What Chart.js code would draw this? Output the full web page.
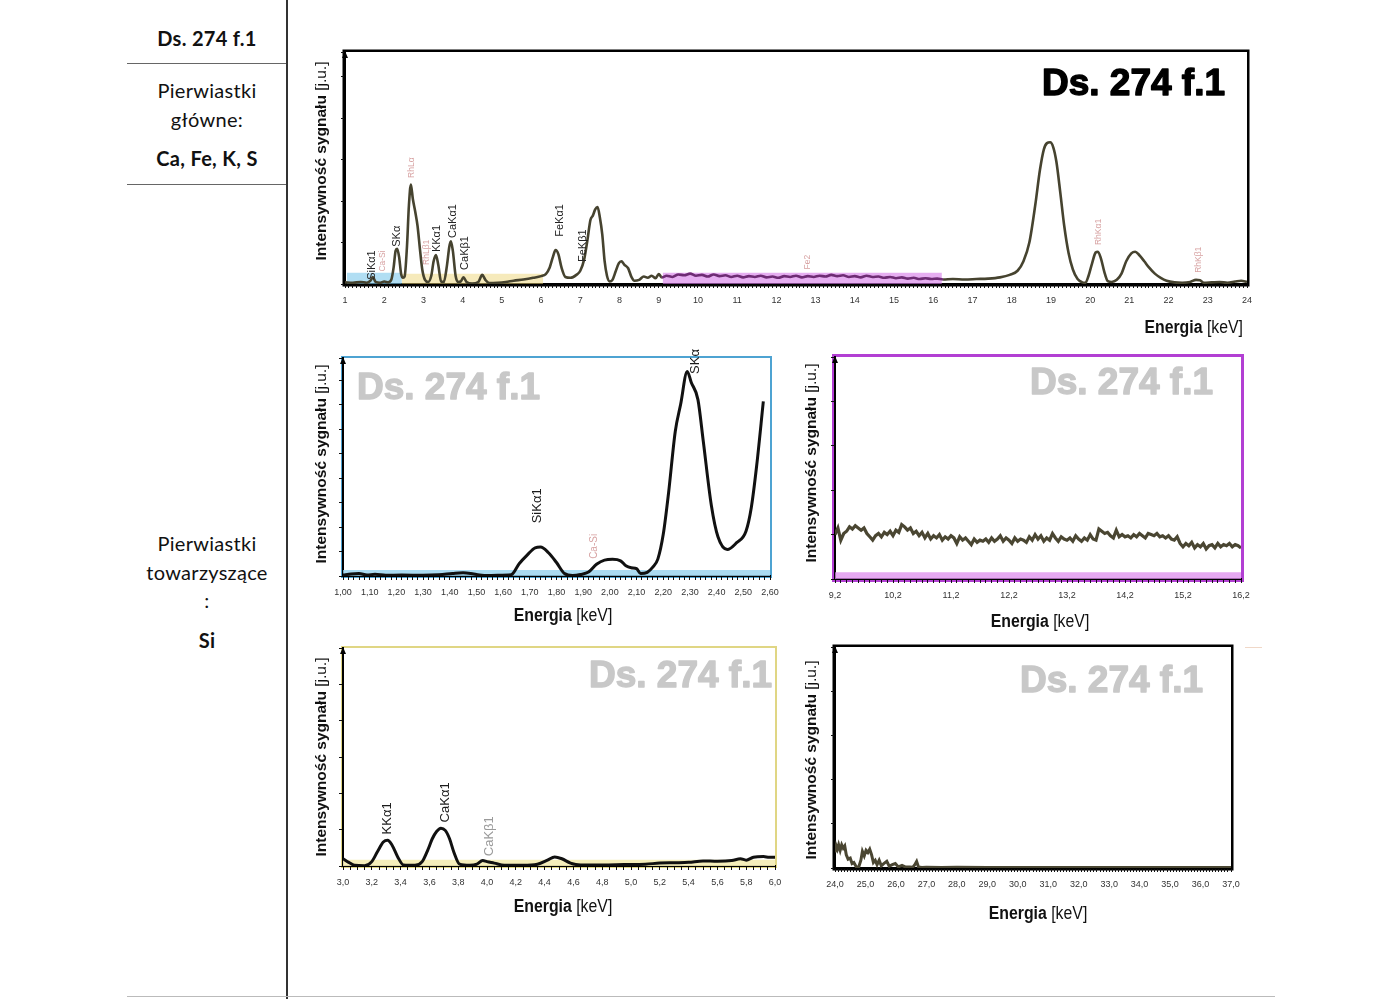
<!DOCTYPE html>
<html lang="pl">
<head>
<meta charset="utf-8">
<title>Ds. 274 f.1</title>
<script src="https://cdn.jsdelivr.net/npm/chart.js@4.4.1/dist/chart.umd.min.js"></script>
<style>
  html, body { margin: 0; padding: 0; background: #fff; }
  body { width: 1400px; height: 999px; position: relative; overflow: hidden; font-family: Lato, "Open Sans", sans-serif; }
  .cell { position: absolute; left: 127px; width: 160px; text-align: center; font-size: 20px; line-height: 24px; color: #111; letter-spacing: 0.3px; }
  .b { font-weight: bold; }
  .hl { position: absolute; height: 1px; background: #666; }
  canvas { position: absolute; }
</style>
</head>
<body>

<div class="cell b" style="top:26px">Ds. 274 f.1</div>
<div class="hl" style="left:127px; width:160px; top:63px"></div>
<div class="cell" style="top:78px">Pierwiastki</div>
<div class="cell" style="top:107px">główne:</div>
<div class="cell b" style="top:146px">Ca, Fe, K, S</div>
<div class="hl" style="left:127px; width:160px; top:184px"></div>
<div class="cell" style="top:531px">Pierwiastki</div>
<div class="cell" style="top:560px">towarzyszące</div>
<div class="cell" style="top:588px">:</div>
<div class="cell b" style="top:628px">Si</div>
<div style="position:absolute; left:286px; top:0; width:1.5px; height:999px; background:#333"></div>
<div style="position:absolute; left:127px; top:996px; width:1148px; height:1px; background:#bbb"></div>
<div style="position:absolute; left:1245px; top:647px; width:17px; height:1px; background:#f0d8c8"></div>

<canvas id="cMain"></canvas>
<canvas id="cSi"></canvas>
<canvas id="cHigh"></canvas>
<canvas id="cMid"></canvas>
<canvas id="cTail"></canvas>

<script>
// ---- widmo główne 1-24 keV ----
const mainEnergy = [
  1.00,1.20,1.40,1.55,1.65,1.71,1.78,1.90,2.00,2.10,
  2.18,2.24,2.29,2.33,2.38,2.43,2.48,2.52,2.58,2.63,
  2.68,2.73,2.79,2.85,2.91,2.97,3.04,3.12,3.20,3.26,
  3.32,3.38,3.45,3.52,3.60,3.66,3.70,3.75,3.82,3.88,
  3.95,4.02,4.10,4.24,4.40,4.50,4.58,4.68,4.90,5.10,
  5.30,5.55,5.80,6.00,6.12,6.22,6.30,6.37,6.44,6.52,
  6.62,6.75,6.90,7.00,7.10,7.18,7.26,7.32,7.38,7.44,
  7.50,7.56,7.62,7.68,7.75,7.82,7.90,7.98,8.05,8.12,
  8.22,8.30,8.38,8.50,8.62,8.72,8.82,8.92,9.00,9.08,
  9.20,9.35,9.50,9.65,9.80,9.95,10.10,10.25,10.40,10.55,
  10.70,10.85,11.00,11.15,11.30,11.45,11.60,11.75,11.90,12.05,
  12.20,12.35,12.50,12.65,12.80,12.95,13.10,13.25,13.40,13.55,
  13.70,13.85,14.00,14.15,14.30,14.45,14.60,14.75,14.90,15.05,
  15.20,15.35,15.50,15.65,15.80,15.95,16.10,16.25,16.50,16.80,
  17.10,17.40,17.70,17.95,18.15,18.30,18.45,18.60,18.72,18.82,
  18.90,18.98,19.06,19.14,19.24,19.34,19.45,19.56,19.68,19.80,
  19.88,19.96,20.05,20.14,20.20,20.28,20.36,20.45,20.55,20.68,
  20.80,20.92,21.05,21.15,21.25,21.38,21.50,21.65,21.80,21.95,
  22.15,22.35,22.55,22.70,22.80,22.90,23.10,23.30,23.50,23.70,
  23.85,24.00
];
const mainSignal = [
  0.04,0.03,0.05,0.03,0.08,0.17,0.05,0.03,0.06,0.04,
  0.10,0.40,0.80,0.85,0.65,0.25,0.15,0.18,0.90,1.90,
  2.40,2.05,1.75,1.40,0.85,0.35,0.10,0.05,0.20,0.55,
  0.70,0.45,0.06,0.05,0.45,0.90,1.03,0.80,0.20,0.05,
  0.06,0.16,0.05,0.01,0.05,0.22,0.10,0.02,0.03,0.05,
  0.08,0.11,0.15,0.19,0.24,0.40,0.65,0.82,0.72,0.40,
  0.17,0.15,0.22,0.32,0.60,1.05,1.55,1.65,1.80,1.86,
  1.60,1.20,0.55,0.20,0.06,0.10,0.30,0.50,0.55,0.47,
  0.38,0.18,0.08,0.10,0.18,0.15,0.20,0.14,0.24,0.16,
  0.20,0.17,0.23,0.21,0.25,0.20,0.22,0.18,0.23,0.19,
  0.21,0.17,0.20,0.16,0.19,0.17,0.20,0.16,0.18,0.15,
  0.19,0.17,0.20,0.16,0.19,0.17,0.20,0.18,0.22,0.19,
  0.21,0.17,0.19,0.16,0.20,0.17,0.18,0.15,0.17,0.14,
  0.16,0.13,0.15,0.12,0.14,0.12,0.13,0.11,0.12,0.11,
  0.12,0.13,0.16,0.22,0.32,0.55,1.00,1.90,2.75,3.25,
  3.40,3.42,3.30,2.95,2.20,1.40,0.75,0.35,0.12,0.04,
  0.03,0.20,0.50,0.76,0.78,0.60,0.30,0.07,0.05,0.10,
  0.25,0.55,0.74,0.78,0.70,0.55,0.40,0.25,0.15,0.08,
  0.04,0.03,0.05,0.10,0.09,0.03,0.04,0.05,0.03,0.06,
  0.08,0.05
];
// zakresy powiększeń zaznaczone na widmie głównym
const mainBandStart = [1.05, 2.45, 9.10];
const mainBandEnd   = [2.45, 6.05, 16.22];
const mainBandLevel = [0.27, 0.25, 0.27];
// opisy linii
const mainPeakNames  = ['SiKα1','Ca-Si','SKα','RhLα','RhLβ1','KKα1','CaKα1','CaKβ1','FeKα1','FeKβ1','Fe2','RhKα1','RhKβ1'];
const mainPeakEnergy = [1.70, 1.97, 2.33, 2.70, 3.07, 3.34, 3.75, 4.06, 6.48, 7.08, 12.80, 20.21, 22.76];
const mainPeakAnchor = [0.10, 0.30, 0.90, 2.56, 0.46, 0.77, 1.11, 0.34, 1.14, 0.53, 0.35, 0.94, 0.27];
const mainPeakKind   = ['el','oth','el','oth','oth','el','el','el','el','el','oth','oth','oth'];

// ---- powiększenie 1,00-2,60 keV ----
const siEnergy = [
  1.00,1.03,1.06,1.09,1.12,1.16,1.22,1.30,1.36,1.41,
  1.45,1.49,1.53,1.58,1.63,1.66,1.69,1.72,1.74,1.77,
  1.80,1.83,1.86,1.89,1.92,1.95,1.98,2.01,2.04,2.06,
  2.08,2.10,2.115,2.14,2.16,2.18,2.20,2.22,2.245,2.265,
  2.29,2.305,2.33,2.35,2.38,2.405,2.44,2.475,2.51,2.53,
  2.55,2.575
];
const siSignal = [
  0.04,0.08,0.10,0.04,0.07,0.03,0.04,0.03,0.05,0.10,
  0.13,0.08,0.02,0.03,0.05,0.50,0.85,1.15,1.18,0.95,
  0.55,0.10,0.02,0.06,0.16,0.48,0.65,0.68,0.62,0.42,
  0.34,0.30,0.10,0.15,0.35,0.70,1.70,3.40,5.90,7.00,
  8.35,7.90,7.20,5.50,2.90,1.60,1.08,1.36,1.83,2.80,
  4.50,7.13
];
const siPeakNames  = ['SiKα1','Ca-Si','SKα'];
const siPeakEnergy = [1.73, 1.94, 2.32];
const siPeakAnchor = [2.15, 0.70, 8.25];
const siPeakKind   = ['el','oth','el'];

// ---- powiększenie 9,2-16,2 keV ----
const highEnergy = [
  9.20,9.25,9.30,9.35,9.40,9.45,9.50,9.55,9.60,9.65,
  9.70,9.75,9.80,9.85,9.90,9.95,10.00,10.05,10.10,10.15,
  10.20,10.25,10.30,10.35,10.40,10.45,10.50,10.55,10.60,10.65,
  10.70,10.75,10.80,10.85,10.90,10.95,11.00,11.05,11.10,11.15,
  11.20,11.25,11.30,11.35,11.40,11.45,11.50,11.55,11.60,11.65,
  11.70,11.75,11.80,11.85,11.90,11.95,12.00,12.05,12.10,12.15,
  12.20,12.25,12.30,12.35,12.40,12.45,12.50,12.55,12.60,12.65,
  12.70,12.75,12.80,12.85,12.90,12.95,13.00,13.05,13.10,13.15,
  13.20,13.25,13.30,13.35,13.40,13.45,13.50,13.55,13.60,13.65,
  13.70,13.75,13.80,13.85,13.90,13.95,14.00,14.05,14.10,14.15,
  14.20,14.25,14.30,14.35,14.40,14.45,14.50,14.55,14.60,14.65,
  14.70,14.75,14.80,14.85,14.90,14.95,15.00,15.05,15.10,15.15,
  15.20,15.25,15.30,15.35,15.40,15.45,15.50,15.55,15.60,15.65,
  15.70,15.75,15.80,15.85,15.90,15.95,16.00,16.05,16.10,16.15,
  16.20
];
const highSignal = [
  2.00,2.30,1.75,2.05,2.15,2.35,2.25,2.40,2.30,2.20,
  2.30,2.05,1.90,1.75,1.95,2.05,1.90,2.10,2.00,2.15,
  1.95,2.20,2.10,2.45,2.35,2.20,2.30,2.05,2.15,1.95,
  2.10,1.85,2.05,1.80,1.95,1.85,2.00,1.75,1.90,1.80,
  1.95,1.85,1.60,1.90,1.75,1.85,1.70,1.55,1.80,1.65,
  1.75,1.70,1.80,1.65,1.85,1.70,1.80,1.95,1.70,1.85,
  1.75,1.60,1.85,1.70,1.80,1.75,1.65,1.90,1.75,2.00,
  1.80,1.95,1.70,1.85,1.75,2.05,1.85,1.70,1.90,1.80,
  1.75,1.85,1.70,1.95,1.80,1.70,1.85,1.75,2.00,1.80,
  1.75,2.25,2.15,2.05,2.10,1.95,1.85,2.20,1.90,2.00,
  1.90,1.95,1.85,2.00,1.90,2.05,1.95,1.85,2.05,2.00,
  1.95,2.05,1.90,1.95,1.85,1.95,1.80,1.75,1.90,1.60,
  1.45,1.60,1.50,1.65,1.40,1.55,1.45,1.60,1.35,1.50,
  1.55,1.40,1.60,1.45,1.55,1.50,1.60,1.45,1.55,1.50,
  1.40
];

// ---- powiększenie 3,0-6,0 keV ----
const midEnergy = [
  3.00,3.04,3.08,3.15,3.20,3.24,3.28,3.31,3.34,3.38,
  3.42,3.50,3.55,3.59,3.62,3.65,3.68,3.71,3.74,3.77,
  3.81,3.88,3.93,3.97,4.00,4.05,4.12,4.25,4.35,4.42,
  4.47,4.52,4.58,4.65,4.80,4.95,5.10,5.20,5.30,5.40,
  5.50,5.60,5.70,5.76,5.80,5.85,5.92,5.96,6.00
];
const midSignal = [
  0.20,0.10,0.02,0.01,0.12,0.40,0.66,0.71,0.58,0.25,
  0.03,0.02,0.12,0.45,0.75,0.95,1.04,0.98,0.75,0.38,
  0.05,0.02,0.05,0.15,0.12,0.08,0.02,0.02,0.05,0.16,
  0.25,0.20,0.08,0.03,0.03,0.04,0.05,0.08,0.09,0.10,
  0.14,0.13,0.15,0.20,0.16,0.24,0.26,0.24,0.24
];
const midPeakNames  = ['KKα1','CaKα1','CaKβ1'];
const midPeakEnergy = [3.31, 3.71, 4.02];
const midPeakAnchor = [0.87, 1.20, 0.27];
const midPeakKind   = ['el','el','weak'];

// ---- powiększenie 24-37 keV ----
const tailEnergy = [
  24.00,24.04,24.08,24.12,24.17,24.22,24.27,24.32,24.37,24.43,
  24.50,24.56,24.62,24.70,24.78,24.85,24.90,24.96,25.02,25.08,
  25.14,25.20,25.26,25.32,25.38,25.45,25.52,25.60,25.70,25.78,
  25.88,25.98,26.08,26.20,26.32,26.45,26.55,26.62,26.68,26.74,
  26.85,27.00,27.50,28.00,29.00,30.00,31.00,32.00,33.00,34.00,
  35.00,36.00,37.00
];
const tailSignal = [
  0.70,1.00,0.85,1.05,0.80,1.05,0.90,1.00,0.60,0.40,
  0.45,0.20,0.25,0.05,0.05,0.35,0.75,0.55,0.80,0.70,
  0.85,0.60,0.25,0.35,0.15,0.35,0.10,0.20,0.30,0.08,
  0.15,0.20,0.05,0.12,0.04,0.05,0.03,0.15,0.30,0.05,
  0.02,0.03,0.02,0.03,0.02,0.02,0.02,0.02,0.02,0.02,
  0.02,0.02,0.02
];

const FONT = '"Liberation Sans", Arial, sans-serif';
const OLIVE = '#46432f';
const STAMP = 'Ds. 274 f.1';

const pts = (xs, ys) => xs.map((x, i) => ({ x: x, y: ys[i] }));
const comma = d => v => v.toFixed(d).replace('.', ',');

function onStep(v, start, step) {
  const k = (v - start) / step;
  return Math.abs(k - Math.round(k)) < 1e-6;
}

function bandSet(x0, x1, level, color) {
  return { data: [{ x: x0, y: level }, { x: x1, y: level }], fill: 'origin',
           backgroundColor: color, borderWidth: 0, order: 5 };
}

function drawParts(ctx, parts, x, y, align, angle, sx) {
  ctx.save();
  ctx.translate(x, y);
  ctx.rotate(angle);
  ctx.scale(sx, 1);
  let total = 0;
  const widths = parts.map(p => { ctx.font = p.font; const w = ctx.measureText(p.text).width; total += w; return w; });
  let cx = align === 'right' ? -total : align === 'center' ? -total / 2 : 0;
  ctx.textBaseline = 'middle';
  ctx.textAlign = 'left';
  parts.forEach((p, i) => { ctx.font = p.font; ctx.fillStyle = '#111'; ctx.fillText(p.text, cx, 0); cx += widths[i]; });
  ctx.restore();
}

const yTitleParts = [
  { text: 'Intensywność sygnału ', font: 'bold 15.5px ' + FONT },
  { text: '[j.u.]', font: '15.5px ' + FONT }
];
const xTitleParts = [
  { text: 'Energia ', font: 'bold 18px ' + FONT },
  { text: '[keV]', font: '18px ' + FONT }
];

const peakStyle = {
  main: { el: ['#222', 11], oth: ['#d7a2a2', 8.5] },
  sub:  { el: ['#1a1a1a', 13], oth: ['#d7a2a2', 10], weak: ['#9a9a9a', 13] }
};

// dekoracje każdego wykresu (współrzędne strony)
const decoSpecs = {};

const decoPlugin = {
  id: 'deco',
  beforeDraw(chart) {
    const d = decoSpecs[chart.canvas.id];
    const { ctx, chartArea: a } = chart;
    const h = d.frameWidth / 2;
    ctx.save();
    ctx.strokeStyle = d.frame;
    ctx.lineWidth = d.frameWidth;
    ctx.strokeRect(a.left - h, a.top - h, a.right - a.left + 2 * h, a.bottom - a.top + 2 * h);
    ctx.restore();
  },
  beforeDatasetsDraw(chart) {
    const d = decoSpecs[chart.canvas.id];
    const ctx = chart.ctx;
    const sx = d.stamp.x - d.box.left, sy = d.stamp.y - d.box.top;
    ctx.save();
    ctx.font = 'bold 37px ' + FONT;
    ctx.fillStyle = d.stamp.color;
    ctx.strokeStyle = d.stamp.color;
    ctx.lineWidth = 1.4;
    ctx.lineJoin = 'round';
    ctx.textAlign = d.stamp.align;
    ctx.textBaseline = 'middle';
    ctx.fillText(STAMP, sx, sy);
    ctx.strokeText(STAMP, sx, sy);
    ctx.restore();
  },
  afterDatasetsDraw(chart) {
    const d = decoSpecs[chart.canvas.id];
    if (!d.peaks) return;
    const { ctx, scales: { x, y } } = chart;
    const p = d.peaks;
    p.names.forEach((name, i) => {
      const st = d.peakStyle[p.kind[i]];
      ctx.save();
      ctx.translate(x.getPixelForValue(p.energy[i]), y.getPixelForValue(p.anchor[i]));
      ctx.rotate(-Math.PI / 2);
      ctx.font = st[1] + 'px ' + FONT;
      ctx.fillStyle = st[0];
      ctx.textAlign = 'left';
      ctx.textBaseline = 'middle';
      ctx.fillText(name, 0, 0);
      ctx.restore();
    });
  },
  afterDraw(chart) {
    const d = decoSpecs[chart.canvas.id];
    const { ctx, chartArea: a } = chart;
    // strzałka osi Y
    ctx.save();
    ctx.fillStyle = '#000';
    ctx.beginPath();
    ctx.moveTo(a.left, a.top - 1);
    ctx.lineTo(a.left - 3, a.top + 6);
    ctx.lineTo(a.left + 3, a.top + 6);
    ctx.closePath();
    ctx.fill();
    ctx.restore();
    drawParts(ctx, yTitleParts, d.yTitle[0] - d.box.left, d.yTitle[1] - d.box.top, 'center', -Math.PI / 2, 1);
    drawParts(ctx, xTitleParts, d.xTitle[0] - d.box.left, d.xTitle[1] - d.box.top, d.xTitle[2], 0, 0.88);
  }
};

function buildChart(id, box, spec) {
  const cv = document.getElementById(id);
  cv.width = box.w;
  cv.height = box.h;
  cv.style.left = box.left + 'px';
  cv.style.top = box.top + 'px';
  decoSpecs[id] = Object.assign({ box: box }, spec.deco);
  return new Chart(cv, {
    type: 'line',
    data: { datasets: spec.datasets },
    options: {
      responsive: false,
      animation: false,
      devicePixelRatio: 1,
      layout: { padding: box.pad },
      elements: { point: { radius: 0 } },
      plugins: { legend: { display: false }, tooltip: { enabled: false } },
      scales: {
        x: {
          type: 'linear', min: spec.xMin, max: spec.xMax,
          afterFit: s => { s.height = box.xH; },
          border: { color: '#000', width: 2 },
          grid: { drawOnChartArea: false, tickLength: 4, color: '#111', lineWidth: 1 },
          ticks: {
            stepSize: spec.minor, autoSkip: false, maxRotation: 0, minRotation: 0,
            padding: 7, color: '#333', font: { family: FONT, size: 9 },
            callback: v => onStep(v, spec.xMin, spec.major) ? spec.fmt(v) : ''
          }
        },
        y: {
          min: 0, max: spec.yMax,
          afterFit: s => { s.width = box.yW; },
          border: { color: '#000', width: 2 },
          grid: { drawOnChartArea: false, tickLength: 4, color: '#111' },
          ticks: { display: false, stepSize: spec.yStep }
        }
      }
    },
    plugins: [decoPlugin]
  });
}

// ---- wykres główny ----
const mainBandColors = ['rgba(125,200,235,0.6)', 'rgba(238,214,120,0.5)', 'rgba(214,120,232,0.6)'];
const mainSets = [{
  data: pts(mainEnergy, mainSignal), borderColor: OLIVE, borderWidth: 2.6,
  cubicInterpolationMode: 'monotone', order: 1,
  segment: { borderColor: c => (c.p0.parsed.x >= 9.08 && c.p1.parsed.x <= 16.25) ? '#6e2c74' : undefined }
}];
mainBandStart.forEach((s, i) => mainSets.push(bandSet(s, mainBandEnd[i], mainBandLevel[i], mainBandColors[i])));

buildChart('cMain',
  { left: 300, top: 30, w: 960, h: 310, pad: { top: 22, right: 13, bottom: 0, left: 0 }, yW: 45, xH: 56 },
  { xMin: 1, xMax: 24, minor: 0.1, major: 1, fmt: v => String(Math.round(v)), yMax: 5.6, yStep: 1,
    datasets: mainSets,
    deco: { frame: '#000', frameWidth: 2.5,
            stamp: { x: 1225, y: 85, align: 'right', color: '#000' },
            yTitle: [322, 161], xTitle: [1243, 328, 'right'],
            peaks: { names: mainPeakNames, energy: mainPeakEnergy, anchor: mainPeakAnchor, kind: mainPeakKind },
            peakStyle: peakStyle.main } });

// ---- Si / S ----
buildChart('cSi',
  { left: 300, top: 340, w: 490, h: 300, pad: { top: 18, right: 20, bottom: 0, left: 0 }, yW: 43, xH: 64 },
  { xMin: 1.0, xMax: 2.6, minor: 0.02, major: 0.1, fmt: comma(2), yMax: 8.9, yStep: 1,
    datasets: [
      { data: pts(siEnergy, siSignal), borderColor: '#111', borderWidth: 3, cubicInterpolationMode: 'monotone', order: 1 },
      bandSet(1.0, 2.6, 0.25, 'rgba(150,210,238,0.8)')
    ],
    deco: { frame: '#4ea3d2', frameWidth: 2,
            stamp: { x: 357, y: 389, align: 'left', color: '#c8c8c8' },
            yTitle: [322, 464], xTitle: [563, 616, 'center'],
            peaks: { names: siPeakNames, energy: siPeakEnergy, anchor: siPeakAnchor, kind: siPeakKind },
            peakStyle: peakStyle.sub } });

// ---- 9,2-16,2 ----
buildChart('cHigh',
  { left: 790, top: 340, w: 470, h: 300, pad: { top: 17, right: 19, bottom: 0, left: 0 }, yW: 45, xH: 61 },
  { xMin: 9.2, xMax: 16.2, minor: 0.1, major: 1, fmt: comma(1), yMax: 10, yStep: 2,
    datasets: [
      { data: pts(highEnergy, highSignal), borderColor: '#4a4632', borderWidth: 3.2, order: 1 },
      bandSet(9.2, 16.2, 0.3, 'rgba(222,140,238,0.75)')
    ],
    deco: { frame: '#b23fd3', frameWidth: 3,
            stamp: { x: 1213, y: 384, align: 'right', color: '#c8c8c8' },
            yTitle: [812, 463], xTitle: [1040, 622, 'center'] } });

// ---- 3,0-6,0 ----
buildChart('cMid',
  { left: 300, top: 630, w: 490, h: 300, pad: { top: 18, right: 15, bottom: 0, left: 0 }, yW: 43, xH: 64 },
  { xMin: 3.0, xMax: 6.0, minor: 0.05, major: 0.2, fmt: comma(1), yMax: 6, yStep: 1,
    datasets: [
      { data: pts(midEnergy, midSignal), borderColor: '#111', borderWidth: 3, cubicInterpolationMode: 'monotone', order: 1 },
      bandSet(3.0, 6.0, 0.17, 'rgba(244,236,180,0.9)')
    ],
    deco: { frame: '#e0d684', frameWidth: 2,
            stamp: { x: 772, y: 677, align: 'right', color: '#c8c8c8' },
            yTitle: [322, 757], xTitle: [563, 907, 'center'],
            peaks: { names: midPeakNames, energy: midPeakEnergy, anchor: midPeakAnchor, kind: midPeakKind },
            peakStyle: peakStyle.sub } });

// ---- 24-37 ----
buildChart('cTail',
  { left: 790, top: 630, w: 470, h: 300, pad: { top: 17, right: 29, bottom: 0, left: 0 }, yW: 45, xH: 62 },
  { xMin: 24, xMax: 37, minor: 0.1, major: 1, fmt: comma(1), yMax: 10, yStep: 2,
    datasets: [
      { data: pts(tailEnergy, tailSignal), borderColor: '#4a4632', borderWidth: 3, order: 1 }
    ],
    deco: { frame: '#000', frameWidth: 2.5,
            stamp: { x: 1203, y: 682, align: 'right', color: '#c8c8c8' },
            yTitle: [812, 760], xTitle: [1038, 914, 'center'] } });
</script>
</body>
</html>
